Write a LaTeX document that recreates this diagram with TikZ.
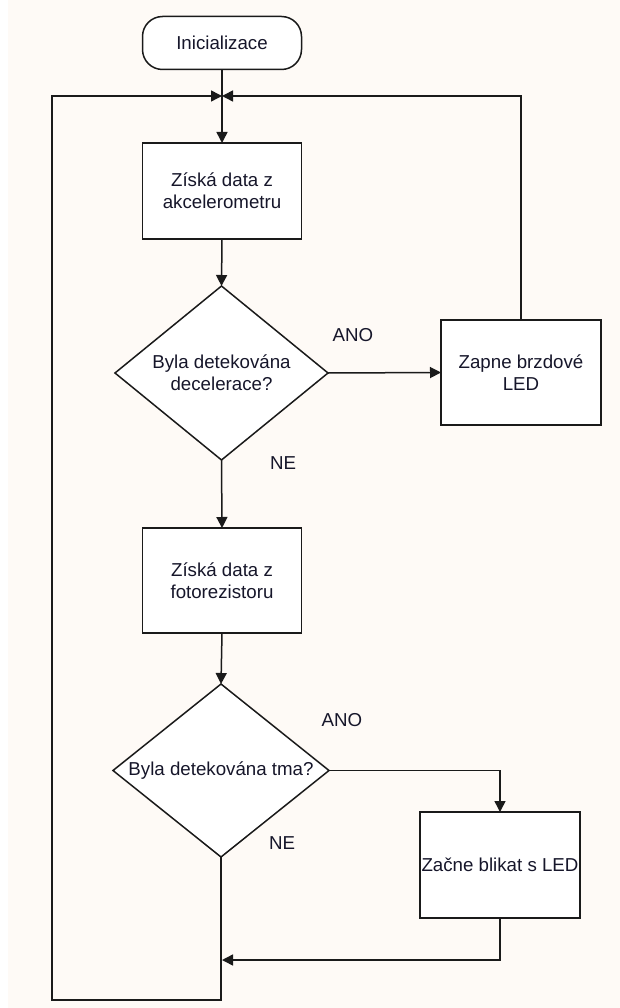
\documentclass[tikz,border=0pt]{standalone}
\usepackage{fontspec}
\setmainfont{Liberation Sans}
\usetikzlibrary{arrows.meta,shapes.geometric}
\definecolor{paper}{HTML}{FEFAF6}
\definecolor{ink}{HTML}{1A1A1A}
\definecolor{txt}{HTML}{16162A}

\begin{document}
\begin{tikzpicture}[x=1pt,y=-1pt,
  every node/.style={font=\fontsize{18.7}{22}\selectfont, text=txt, outer sep=0pt},
  wire/.style={draw=ink, line width=1.5pt},
  flow/.style={wire, -{Triangle[length=11pt,width=11pt]}},
  terminal/.style={draw=ink, line width=1.5pt, fill=white, rounded corners=20pt,
    minimum width=159pt, minimum height=53pt, inner sep=0pt},
  proc/.style={draw=ink, line width=1.5pt, fill=white, inner sep=0pt,
    minimum width=160pt, minimum height=105pt, align=center},
  decision/.style={diamond, draw=ink, line width=1.5pt, fill=white, inner sep=0pt,
    aspect=1.24, align=center},
  tag/.style={inner sep=0pt}]

  % page
  \fill[paper] (0,0) rectangle (620,1008);
  \fill[white] (0,0) rectangle (8,1008);
  \useasboundingbox (0,0) rectangle (620,1008);

  % blocks
  \node[terminal] (start) at (222,43) {Inicializace};
  \coordinate (j) at (222,96);
  \node[proc, minimum width=159pt, minimum height=96pt] (b1) at (222,191)
    {Získá data z\\akcelerometru};
  \node[decision, minimum width=213pt, minimum height=174pt] (d1) at (221.5,373)
    {Byla detekována\\decelerace?};
  \node[proc] (b2) at (521,372.5) {Zapne brzdové\\LED};
  \node[proc, minimum width=159pt] (b3) at (222,580.5) {Získá data z\\fotorezistoru};
  \node[decision, minimum width=216pt, minimum height=173pt] (d2) at (221,770.5)
    {Byla detekována tma?};
  \node[proc, minimum height=106pt] (b4) at (500,865) {Začne blikat s LED};

  % labels
  \node[tag] (ano1) at (353,335) {ANO};
  \node[tag] (ne1) at (283,463) {NE};
  \node[tag] (ano2) at (342,720) {ANO};
  \node[tag] (ne2) at (282,843) {NE};

  % loop points
  \coordinate (m) at (222,960);
  \coordinate (lb) at (52,1000);

  % connectors
  \draw[wire] (start.south) -- (j);
  \draw[flow] (j) -- (b1.north);
  \draw[flow] (b1.south) -- (d1.north);
  \draw[flow] (d1.east) -- (b2.west);
  \draw[flow] (b2.north) |- (j);
  \draw[flow] (d1.south) -- (b3.north);
  \draw[flow] (b3.south) -- (d2.north);
  \draw[flow] (d2.east) -| (b4.north);
  \draw[flow] (b4.south) |- (m);
  \draw[flow] (d2.south) |- (lb) |- (j);
\end{tikzpicture}
\end{document}
